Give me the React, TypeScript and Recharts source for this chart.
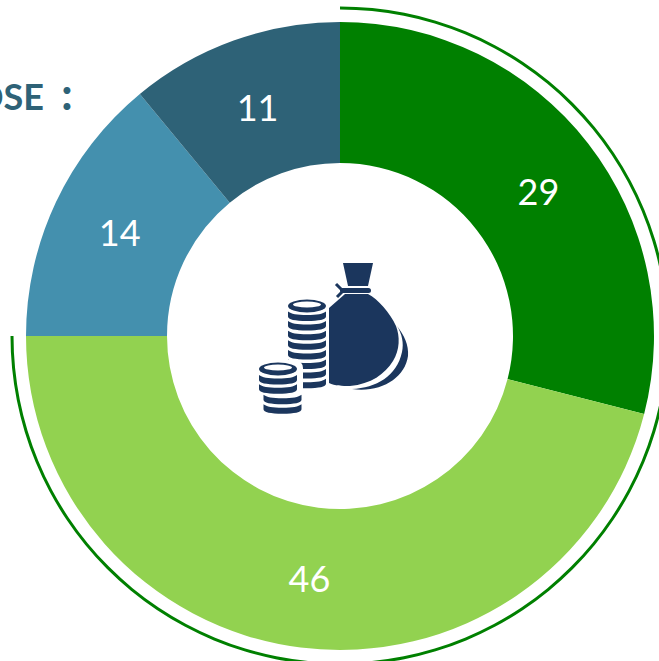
import { PieChart, Pie, Cell } from 'recharts'

const categories = ['A', 'B', 'C', 'D']
const values = [29, 46, 14, 11]
const COLORS = ['#008000', '#92d250', '#4490ae', '#2e6277']
const ringValues = [75]
const ICON = '#1b365d'
const FONT = 'Lato, "Open Sans", sans-serif'

const chartData = categories.map((name, i) => ({ name, value: values[i] }))
const ringData = ringValues.map((value) => ({ name: 'ring', value }))

function renderLabel(props: any) {
  const { cx, cy, midAngle, innerRadius, outerRadius, value, index } = props
  const r = (innerRadius + outerRadius) / 2
  const rad = (midAngle * Math.PI) / 180
  // the first label sits a little off the middle of its slice
  const dx = index === 0 ? 6 : 0
  const dy = index === 0 ? 4 : 0
  return (
    <text
      x={cx + r * Math.cos(rad) + dx}
      y={cy - r * Math.sin(rad) + dy}
      fill="#fff"
      fontSize={36}
      fontFamily={FONT}
      textAnchor="middle"
      dominantBaseline="central"
    >
      {value}
    </text>
  )
}

function CoinBand({ x, y }: { x: number; y: number }) {
  return <path d={`M${x} ${y}v5c0 3 7 4.5 19 4.5s19-1.5 19-4.5v-5c-3 2.5-9 3.5-19 3.5s-16-1-19-3.5z`} fill={ICON} />
}

function MoneyIcon() {
  const bigBands = [0, 1, 2, 3, 4, 5, 6, 7]
  const smallBands = [0, 1]
  const shiftedBands = [2, 3]
  return (
    <g>
      {/* tall stack */}
      <ellipse cx={307} cy={306} rx={19} ry={6.5} fill={ICON} />
      <ellipse cx={307} cy={304.5} rx={14} ry={3} fill="#fff" />
      {bigBands.map((i) => (
        <CoinBand key={i} x={288} y={311.5 + i * 9.6} />
      ))}
      {/* small stack, with a white gap round it */}
      <rect x={256} y={360} width={47} height={56} rx={8} fill="#fff" />
      <ellipse cx={278} cy={369} rx={19} ry={6.5} fill={ICON} />
      <ellipse cx={278} cy={367.5} rx={14} ry={3} fill="#fff" />
      {smallBands.map((i) => (
        <CoinBand key={i} x={259} y={375 + i * 9.2} />
      ))}
      {shiftedBands.map((i) => (
        <CoinBand key={i} x={263.5} y={375.5 + i * 9.6} />
      ))}
      {/* bag */}
      <path d="M343 263h30l-5 23h-20z" fill={ICON} />
      <rect x={340} y={288} width={31} height={5} rx={2.5} fill={ICON} />
      <path d="M336 284l6 6M337 297l6-6" stroke={ICON} strokeWidth={3} />
      <path
        d="M329 308L345 294H368C378 299 390 313 396 326C400 336 400 350 393 361C385 374 371 384 350 386C342 386 335 386 329 383Z"
        fill={ICON}
      />
      <path d="M397 326C404 335 409 345 408 356C405 378 381 393 352 389C376 388 397 376 402 352C404 343 402 334 397 326Z" fill={ICON} />
    </g>
  )
}

export default function App() {
  return (
    <div style={{ width: 659, height: 661 }}>
      <style>{'body{margin:0}'}</style>
      <PieChart width={659} height={661} margin={{ top: 0, right: 0, bottom: 0, left: 0 }}>
        <Pie
          data={ringData}
          dataKey="value"
          cx={340}
          cy={336}
          innerRadius={326.5}
          outerRadius={329.5}
          startAngle={90}
          endAngle={-180}
          fill="#008000"
          stroke="none"
          isAnimationActive={false}
        />
        <Pie
          data={chartData}
          dataKey="value"
          cx={340}
          cy={336}
          innerRadius={173}
          outerRadius={314}
          startAngle={90}
          endAngle={-270}
          stroke="none"
          label={renderLabel}
          labelLine={false}
          isAnimationActive={false}
        >
          {chartData.map((d, i) => (
            <Cell key={d.name} fill={COLORS[i]} />
          ))}
        </Pie>
        <text x={44} y={110} textAnchor="end" fill="#2e6277" fontSize={36} fontWeight={700} fontFamily={FONT}>
          OSE
        </text>
        <text x={67} y={110} textAnchor="middle" fill="#2e6277" fontSize={46} fontWeight={700} fontFamily={FONT}>
          :
        </text>
        <MoneyIcon />
      </PieChart>
    </div>
  )
}
